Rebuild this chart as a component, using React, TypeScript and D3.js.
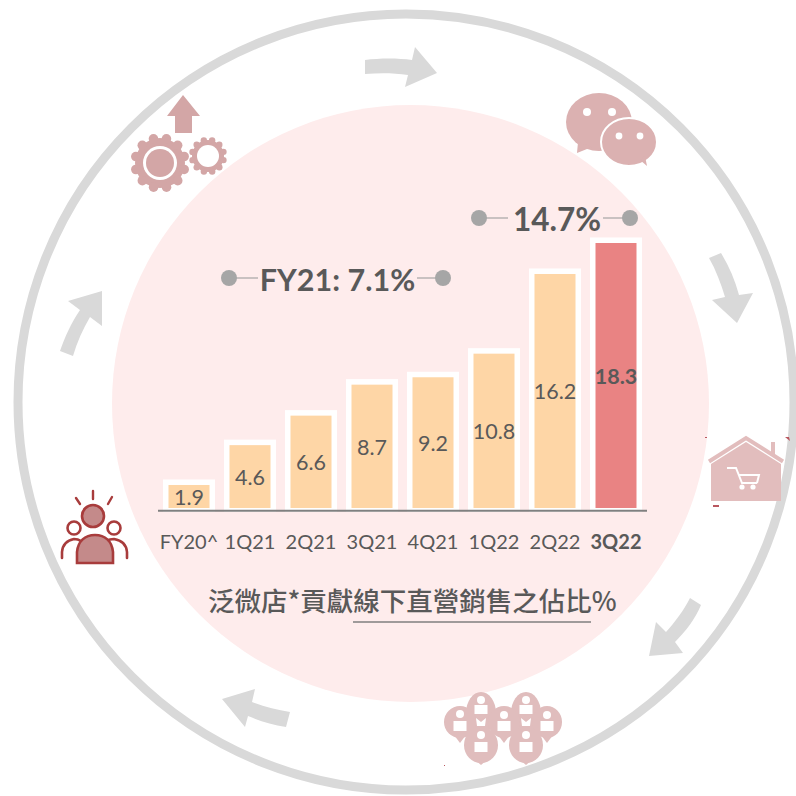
import React from "react";
import * as d3 from "d3";

const categories = ["FY20^", "1Q21", "2Q21", "3Q21", "4Q21", "1Q22", "2Q22", "3Q22"];
const values = [1.9, 4.6, 6.6, 8.7, 9.2, 10.8, 16.2, 18.3];
const highlighted = "3Q22";
const fy21Label = "FY21: 7.1%";
const latestLabel = "14.7%";
const captionText = "泛微店*貢獻線下直營銷售之佔比%";

const LATIN = "Lato, Carlito, sans-serif";
const CJK = "'Noto Sans CJK TC', sans-serif";
const TEXT = "#595959";
const GREY = "#d9d9d9";

const x = d3.scaleBand<string>().domain(categories).range([158.5, 646.5]).paddingInner(20 / 61).paddingOuter(10 / 61);
const y = d3.scaleLinear().domain([0.34, 18.3]).range([508, 243]);

const arrows = [
  "M365,60 C380,58 398,58 412,60 L415,47 L437,73 L405,87 L408,75 C394,73 380,73 365,74 Z",
  "M709,258 L721,253 C729,266 735,280 739,295 L753,293 L737,323 L712,300 L725,297 C721,284 716,270 709,258 Z",
  "M690,598 L701,605 C695,619 686,631 675,642 L683,653 L649,656 L656,622 L666,632 C675,622 684,610 690,598 Z",
  "M290,712 L286,727 C272,725 260,721 248,716 L245,727 L222,699 L255,689 L252,702 C264,707 277,710 290,712 Z",
  "M60,351 L73,356 C77,342 83,329 90,317 L102,326 L102,291 L68,301 L80,310 C71,323 65,337 60,351 Z",
];

function Gear({ cx, cy, r, teeth, toothR, fill, start = 0 }: any) {
  const angles = d3.range(teeth).map((i) => start + (i * 2 * Math.PI) / teeth);
  return (
    <g fill={fill}>
      <circle cx={cx} cy={cy} r={r} />
      {angles.map((a, i) => (
        <circle key={i} cx={cx + Math.cos(a) * r} cy={cy + Math.sin(a) * r} r={toothR} />
      ))}
    </g>
  );
}

function GearsIcon() {
  const c = "#d3a6a6";
  return (
    <g>
      <path d="M183,95 L200,116 L192,116 L192,133 L175,133 L175,116 L167,116 Z" fill={c} />
      <Gear cx={160} cy={163} r={25} teeth={12} toothR={4.8} fill={c} start={0.26} />
      <circle cx={160} cy={163} r={17} fill="#fff" />
      <circle cx={160} cy={163} r={14} fill={c} />
      <Gear cx={208} cy={156} r={16} teeth={12} toothR={3.2} fill={c} start={0.26} />
      <circle cx={208} cy={156} r={11} fill="#fff" />
    </g>
  );
}

function WeChatIcon() {
  const c = "#dbb1b1";
  return (
    <g fill={c}>
      <ellipse cx={599} cy={122} rx={33} ry={29} />
      <path d="M578,142 L577,153 L592,147 Z" />
      <circle cx={587} cy={112} r={4} fill="#fff" />
      <circle cx={612} cy={112} r={4} fill="#fff" />
      <ellipse cx={629} cy={142} rx={28} ry={24} stroke="#fff" strokeWidth={2} />
      <path d="M640,160 L647,166 L645,156 Z" />
      <circle cx={619} cy={136} r={3.4} fill="#fff" />
      <circle cx={640} cy={136} r={3.4} fill="#fff" />
    </g>
  );
}

function HouseIcon() {
  const c = "#e2bdbd";
  return (
    <g>
      <path d="M711,464 L746,442 L781,464 L781,501 L711,501 Z" fill={c} />
      <path d="M709,461.5 L746,438 L783,461.5" fill="none" stroke={c} strokeWidth={4} />
      <path d="M773,442 L773,455" fill="none" stroke={c} strokeWidth={4} />
      <path d="M727,468 L736,468 L742,483 L757,483 M739,475 L759,475 L757,483" fill="none" stroke="#fff" strokeWidth={2} />
      <circle cx={742} cy={487} r={2.6} fill="#fff" />
      <circle cx={753} cy={487} r={2.6} fill="#fff" />
      <g fill="#b9575f">
        <rect x={705} y={437} width={2} height={1} />
        <path d="M785,437 L789,437 L790,441 Z" />
        <rect x={713} y={505} width={6} height={2} />
      </g>
    </g>
  );
}

function PinsIcon() {
  const c = "#e0bdbd";
  const pins = [
    { cx: 481, cy: 713, rx: 15, ry: 21, tip: 0, hy: 700, by: 705, bh: 9 },
    { cx: 526, cy: 713, rx: 15, ry: 21, tip: 0, hy: 700, by: 705, bh: 9 },
    { cx: 460, cy: 722, rx: 16, ry: 16, tip: 743, hy: 714, by: 721, bh: 10 },
    { cx: 504, cy: 722, rx: 16, ry: 16, tip: 743, hy: 715, by: 721, bh: 10 },
    { cx: 547, cy: 722, rx: 15, ry: 16, tip: 743, hy: 715, by: 721, bh: 10 },
    { cx: 481, cy: 745, rx: 17, ry: 18, tip: 765, hy: 735, by: 742, bh: 10 },
    { cx: 526, cy: 745, rx: 17, ry: 18, tip: 765, hy: 735, by: 742, bh: 10 },
  ];
  return (
    <g>
      {pins.map((p, i) => (
        <g key={i} fill={c}>
          <ellipse cx={p.cx} cy={p.cy} rx={p.rx} ry={p.ry} />
          {p.tip ? <path d={`M${p.cx - 6},${p.cy + p.ry - 3} L${p.cx},${p.tip} L${p.cx + 6},${p.cy + p.ry - 3} Z`} /> : null}
        </g>
      ))}
      {pins.map((p, i) => (
        <g key={`w${i}`} fill="#fff">
          <circle cx={p.cx} cy={p.hy} r={4} />
          <rect x={p.cx - 6.5} y={p.by} width={13} height={p.bh} />
        </g>
      ))}
      {[481, 526].map((px) => (
        <path key={px} d={`M${px - 5},${718} L${px},${722} L${px + 5},${718} L${px + 4},${726} L${px - 4},${726} Z`} fill="#fff" />
      ))}
      <rect x={444} y={765} width={1} height={1} fill="#b9575f" />
    </g>
  );
}

function PeopleIcon() {
  const s = "#a83c3c";
  const f = "#c48a8a";
  return (
    <g stroke={s} strokeWidth={2.6} strokeLinecap="round">
      <path d="M93,491 L93,499 M76,498 L80,504 M112,497 L108,504" fill="none" strokeWidth={2.4} />
      <circle cx={93} cy={516} r={11} fill={f} />
      <circle cx={74} cy={528} r={6.5} fill="#fff" />
      <circle cx={114} cy={528} r={6.5} fill="#fff" />
      <path d="M62,558 L62,552 Q63,541 74,539 Q78,539 81,541 M106,541 Q110,539 114,539 Q126,541 127,552 L127,558" fill="none" />
      <path d="M77,563 L77,552 C78,541 85,535 95,535 C105,535 112,541 113,552 L113,563 Z" fill={f} />
    </g>
  );
}

function Connector({ cy, left, leftEnd, right, rightStart }: any) {
  return (
    <g>
      <line x1={left} x2={leftEnd} y1={cy} y2={cy} stroke="#a6a6a6" strokeWidth={1.2} />
      <line x1={rightStart} x2={right} y1={cy} y2={cy} stroke="#a6a6a6" strokeWidth={1.2} />
      <circle cx={left} cy={cy} r={8} fill="#a6a6a6" />
      <circle cx={right} cy={cy} r={8} fill="#a6a6a6" />
    </g>
  );
}

export default function App() {
  const bw = x.bandwidth();
  return (
    <svg width={796} height={796} viewBox="0 0 796 796" style={{ position: "fixed", left: 0, top: 0, background: "#fff" }}>
      <circle cx={406} cy={402} r={388} fill="none" stroke={GREY} strokeWidth={9} />
      <circle cx={410.5} cy={403.5} r={298.5} fill="#feecec" />
      {arrows.map((d, i) => (
        <path key={i} d={d} fill={GREY} />
      ))}
      <GearsIcon />
      <WeChatIcon />
      <HouseIcon />
      <PinsIcon />
      <PeopleIcon />

      {categories.map((c, i) => {
        const bx = x(c) as number;
        const top = y(values[i]);
        const hot = c === highlighted;
        return (
          <g key={c}>
            <rect x={bx - 5.5} y={top - 5.5} width={bw + 11} height={y.range()[0] - top + 9.5} fill="#fff" />
            <rect x={bx} y={top} width={bw} height={y.range()[0] - top} fill={hot ? "#e98383" : "#fed6a6"} />
            <text
              x={bx + bw / 2}
              y={(top + y.range()[0]) / 2 + 8.5}
              textAnchor="middle"
              fontFamily={LATIN}
              fontSize={21.5}
              fontWeight={hot ? 700 : 400}
              fill={TEXT}
            >
              {values[i]}
            </text>
            <text
              x={bx + bw / 2}
              y={549}
              textAnchor="middle"
              fontFamily={LATIN}
              fontSize={20}
              fontWeight={hot ? 700 : 400}
              fill={TEXT}
            >
              {c}
            </text>
          </g>
        );
      })}
      <line x1={158} x2={647} y1={510.7} y2={510.7} stroke="#808080" strokeWidth={2} />

      <Connector cy={278} left={229} leftEnd={258} right={443} rightStart={417} />
      <text x={337.5} y={291} textAnchor="middle" fontFamily={LATIN} fontSize={30.5} fontWeight={700} fill={TEXT}>
        {fy21Label}
      </text>
      <Connector cy={218} left={479} leftEnd={508} right={630} rightStart={603} />
      <text x={557} y={231} textAnchor="middle" fontFamily={LATIN} fontSize={31.5} fontWeight={700} fill={TEXT}>
        {latestLabel}
      </text>

      <text x={208} y={611} fontFamily={CJK} fontSize={26.5} fontWeight={500} fill={TEXT}>
        {captionText}
      </text>
      <line x1={353} x2={591} y1={622} y2={622} stroke="#7f7f7f" strokeWidth={1.5} />
    </svg>
  );
}
